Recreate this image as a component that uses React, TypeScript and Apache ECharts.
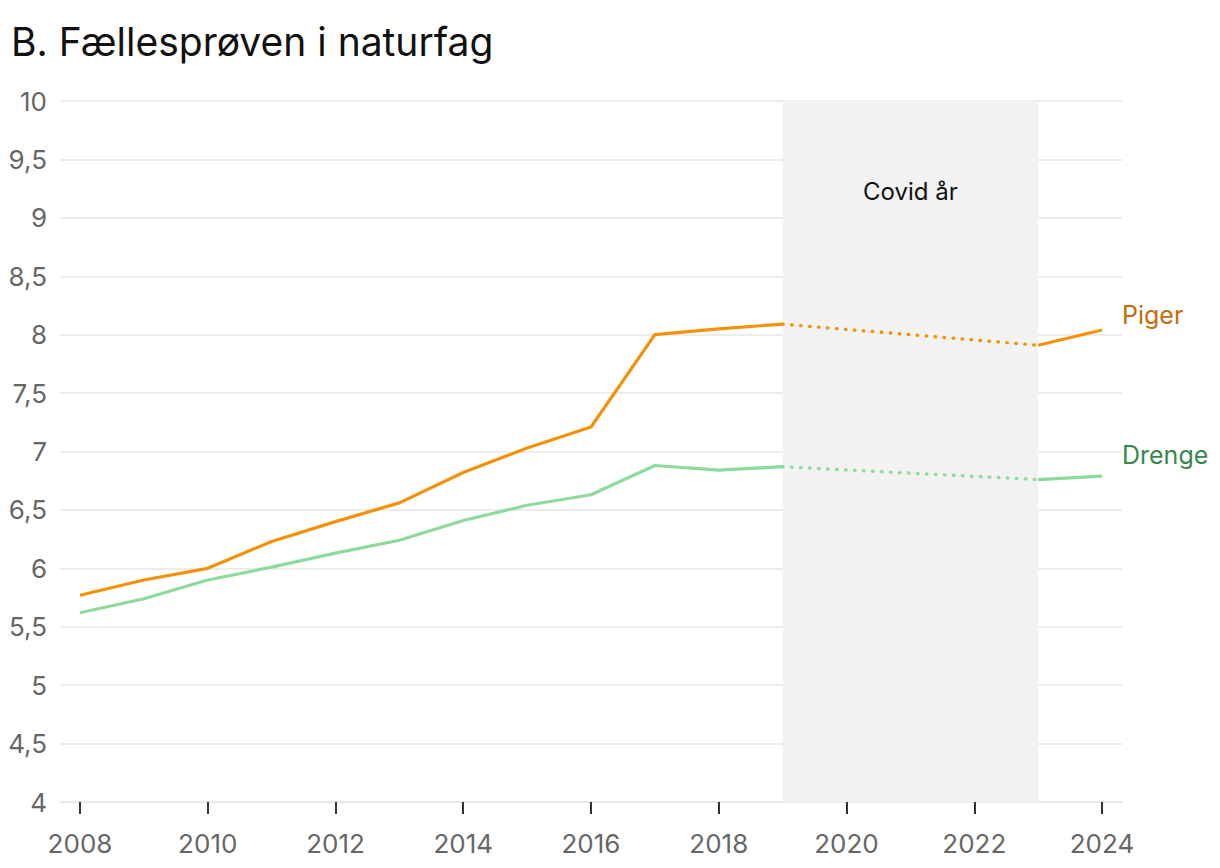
import { useEffect, useRef } from "react";
import * as echarts from "echarts";

const chartTitle = "B. Fællesprøven i naturfag";
const years = [2008, 2009, 2010, 2011, 2012, 2013, 2014, 2015, 2016, 2017, 2018, 2019, 2023, 2024];
const piger = [5.77, 5.9, 6.0, 6.23, 6.4, 6.56, 6.82, 7.03, 7.21, 8.0, 8.05, 8.09, 7.91, 8.04];
const drenge = [5.62, 5.74, 5.9, 6.01, 6.13, 6.24, 6.41, 6.54, 6.63, 6.88, 6.84, 6.87, 6.76, 6.79];
const xTickValues = [2008, 2010, 2012, 2014, 2016, 2018, 2020, 2022, 2024];
const covidStart = 2019;
const covidEnd = 2023;
const covidLabel = "Covid år";
const seriesNames = ["Piger", "Drenge"];

const FONT = "Inter, 'Noto Sans', sans-serif";
const ORANGE = "#F39208";
const GREEN = "#8DDA9F";
const ORANGE_TXT = "#C46C0C";
const GREEN_TXT = "#36884C";

function pairs(vals: number[], pred: (y: number) => boolean) {
  const out: [number, number][] = [];
  years.forEach((y, i) => {
    if (pred(y)) out.push([y, vals[i]]);
  });
  return out;
}

function lineSeries(name: string, vals: number[], color: string, labelColor: string, labelOffsetY: number) {
  const base = {
    type: "line" as const,
    name,
    showSymbol: false,
    symbol: "none",
    z: 5,
    silent: true,
  };
  return [
    {
      ...base,
      data: pairs(vals, (y) => y <= covidStart),
      lineStyle: { color, width: 3.2, join: "round" },
    },
    {
      ...base,
      data: pairs(vals, (y) => y === covidStart || y === covidEnd),
      lineStyle: { color, width: 3.4, type: [0.5, 8.5], cap: "round" },
    },
    {
      ...base,
      data: pairs(vals, (y) => y >= covidEnd),
      lineStyle: { color, width: 3.2, join: "round" },
      endLabel: {
        show: true,
        formatter: name,
        color: labelColor,
        fontFamily: FONT,
        fontSize: 25,
        distance: 20,
        offset: [0, labelOffsetY],
      },
    },
  ];
}

export default function App() {
  const ref = useRef<HTMLDivElement>(null);
  useEffect(() => {
    document.body.style.margin = "0";
    if (!ref.current) return;
    const chart = echarts.init(ref.current, undefined, { renderer: "svg" });
    chart.setOption({
      animation: false,
      backgroundColor: "#ffffff",
      title: {
        text: chartTitle,
        left: 6,
        top: 17,
        textStyle: { fontFamily: FONT, fontSize: 39, fontWeight: "normal", color: "#111" },
      },
      grid: { left: 60, right: 98, top: 101, bottom: 66 },
      xAxis: {
        type: "value",
        min: 2007.687,
        max: 2024.313,
        splitLine: { show: false },
        axisLine: { show: true, lineStyle: { color: "#e6e6e6", width: 1.5 } },
        axisTick: { show: true, customValues: xTickValues, length: 12, lineStyle: { color: "#333", width: 2 } },
        axisLabel: {
          customValues: xTickValues,
          margin: 28,
          fontFamily: FONT,
          fontSize: 26,
          color: "#666",
          formatter: (v: number) => String(v),
        },
      },
      yAxis: {
        type: "value",
        min: 4,
        max: 10,
        interval: 0.5,
        axisLine: { show: false },
        axisTick: { show: false },
        splitLine: { lineStyle: { color: "#e6e6e6", width: 1.5 } },
        axisLabel: {
          margin: 13,
          fontFamily: FONT,
          fontSize: 26,
          color: "#666",
          formatter: (v: number) => String(v).replace(".", ","),
        },
      },
      series: [
        {
          type: "line",
          data: [],
          z: 1,
          silent: true,
          markArea: {
            silent: true,
            itemStyle: { color: "#F2F2F2" },
            label: {
              show: true,
              position: "insideTop",
              distance: 78,
              color: "#111",
              fontFamily: FONT,
              fontSize: 24,
            },
            data: [[{ xAxis: covidStart, name: covidLabel }, { xAxis: covidEnd }]],
          },
        },
        ...lineSeries(seriesNames[0], piger, ORANGE, ORANGE_TXT, -15),
        ...lineSeries(seriesNames[1], drenge, GREEN, GREEN_TXT, -21),
      ],
    });
    return () => chart.dispose();
  }, []);
  return <div ref={ref} style={{ width: 1220, height: 868 }} />;
}
